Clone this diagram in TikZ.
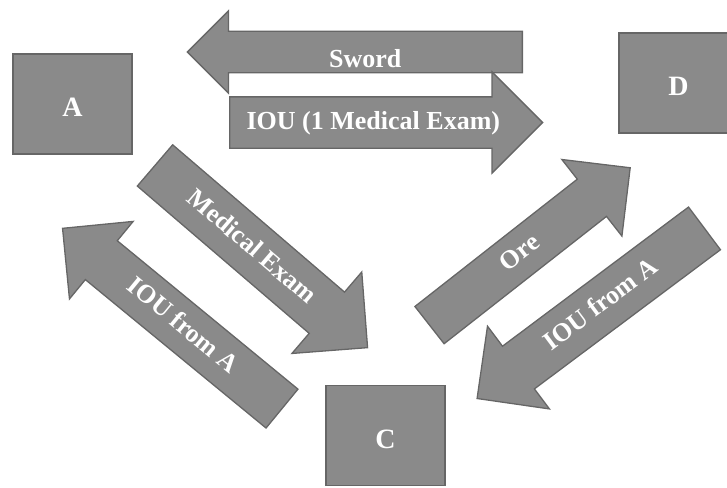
\documentclass[tikz,border=0pt]{standalone}
\usepackage{fontspec}
\setmainfont{Liberation Serif}
\usepackage{tikz}
\usetikzlibrary{positioning,shapes}

\definecolor{boxgray}{RGB}{138,138,138}
\definecolor{edgegray}{RGB}{102,102,102}

\tikzset{
  party/.style={draw=edgegray, line width=1.6pt, fill=boxgray, text=white,
    font=\fontsize{28}{28}\selectfont\bfseries, text height=25pt, text depth=0pt,
    minimum width=119pt, minimum height=100pt, inner sep=0pt},
  trade/.style={single arrow, draw=edgegray, line width=1.3pt, fill=boxgray, text=white,
    font=\fontsize{26}{26}\selectfont\bfseries,
    single arrow tip angle=90, single arrow head extend=25pt,
    text height=18pt, text depth=5pt, inner xsep=0pt, inner ysep=13.5pt, anchor=tail},
  back/.style={shape border rotate=180}
}

\begin{document}
\begin{tikzpicture}[x=1pt,y=-1pt]
  \useasboundingbox (0,0) rectangle (727,487);
  \clip (0,0) rectangle (727,487);
  \node [party] (a) at (72.5,104) {A};
  \node [party] (d) at (678.5,83) {D};
  \node [party] (c) at (385.5,435.5) {C};
  \node [trade, back, text height=30pt, text depth=0pt, inner ysep=5pt,
         single arrow head extend=20.5pt, minimum height=335pt] (sword) at (523,52) {Sword};
  \node [trade, minimum height=313pt] (iou) at (229,122.5) {IOU (1 Medical Exam)};
  \node [trade, rotate=-40.6, inner ysep=15pt, single arrow head extend=26.5pt,
         minimum height=280pt] (exam) at (154.5,165) {Medical Exam};
  \node [trade, back, rotate=-39.4, inner ysep=13pt,
         minimum height=284pt] (iouA) at (282.5,409) {IOU from A};
  \node [trade, rotate=38.1, inner ysep=11.5pt,
         minimum height=255pt] (ore) at (429,325.5) {Ore};
  \node [trade, back, rotate=36.8, inner ysep=14.5pt,
         minimum height=284pt] (iouD) at (705,228) {IOU from A};
\end{tikzpicture}
\end{document}
